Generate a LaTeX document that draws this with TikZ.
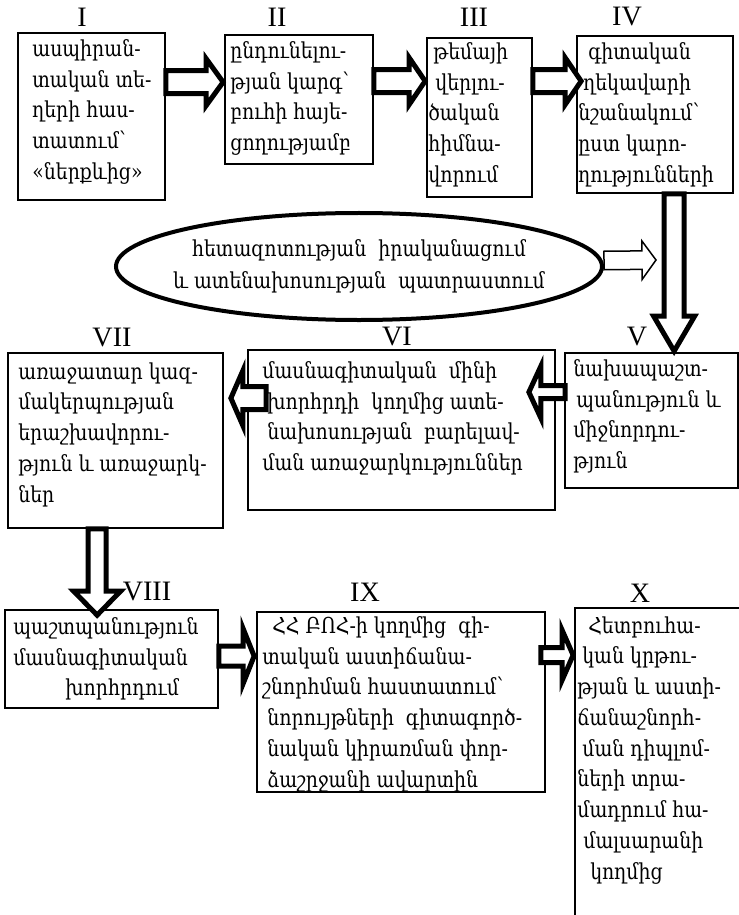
\documentclass[tikz,border=0pt]{standalone}
\usepackage{fontspec}
\setmainfont{Liberation Serif}
\newfontfamily\armfont[FakeStretch=0.86]{DejaVu Serif}
\usetikzlibrary{calc,fit,shapes.geometric}

% hollow block arrow: [style] tail, tip, shaft half width, head half width, head length
\newcommand{\blockarrow}[6][]{%
  \coordinate (ba-t) at (#2);
  \coordinate (ba-p) at (#3);
  \coordinate (ba-h) at ($(ba-p)!#6!(ba-t)$);
  \draw[blockarr,#1] ($(ba-t)!#4!90:(ba-p)$) -- ($(ba-h)!#4!-90:(ba-t)$)
    -- ($(ba-h)!#5!-90:(ba-t)$) -- (ba-p) -- ($(ba-h)!#5!90:(ba-t)$)
    -- ($(ba-h)!#4!90:(ba-t)$) -- ($(ba-t)!#4!-90:(ba-p)$) -- cycle;
}

\begin{document}
\begin{tikzpicture}[x=0.2mm, y=-0.2mm,
  stage/.style={draw, line width=0.35mm, inner sep=0pt},
  txt/.style={font=\armfont\fontsize{12.5}{17.5}\selectfont, align=left,
    anchor=north west, inner sep=0pt},
  num/.style={font=\fontsize{16}{18}\selectfont, inner sep=0pt},
  blockarr/.style={draw, line width=1mm, fill=white, line join=miter}
]
  \useasboundingbox (0,0) rectangle (739,915);

  % stages
  \node[stage, fit={(18,33) (165,200)}] (b1) {};
  \node[stage, fit={(225,35) (373,164)}] (b2) {};
  \node[stage, fit={(427,38) (532,197)}] (b3) {};
  \node[stage, fit={(577,36) (733,193)}] (b4) {};
  \node[stage, fit={(565,353) (738,488)}] (b5) {};
  \node[stage, fit={(248,350) (555,510)}] (b6) {};
  \node[stage, fit={(8,353) (223,528)}] (b7) {};
  \node[stage, fit={(5,610) (218,708)}] (b8) {};
  \node[stage, fit={(257,612) (545,792)}] (b9) {};
  \node[stage, fit={(575,608) (745,930)}] (b10) {};

  \node[draw, ellipse, line width=0.8mm, minimum width=97.2mm, minimum height=21.4mm,
    inner sep=0pt] (el) at (359,266.5) {};
  \node[align=center, inner sep=0pt, font=\armfont\fontsize{12.5}{18}\selectfont]
    (elt) at (el.center) {հետազոտության\ \ իրականացում\\և ատենախոսության\ \ պատրաստում};
  \coordinate (elarr) at (656,260);

  % numbers
  \node[num] (n1) at (82,17) {I};
  \node[num] (n2) at (277,17) {II};
  \node[num] (n3) at (474,17) {III};
  \node[num] (n4) at (627,17) {IV};
  \node[num] (n5) at (637,337) {V};
  \node[num] (n6) at (397,337) {VI};
  \node[num] (n7) at (112,338) {VII};
  \node[num] (n8) at (147,592) {VIII};
  \node[num] (n9) at (365,592) {IX};
  \node[num] (n10) at (640,593) {X};

  % texts
  \node[txt] (t1) at (32,39) {ասպիրան-\\տական տե-\\ղերի հաս-\\տատում՝\\«ներքևից»};
  \node[txt] (t2) at (230,41) {ընդունելու-\\թյան կարգ՝\\բուհի հայե-\\ցողությամբ};
  \node[txt] (t3) at (428,42) {\hspace*{1mm}թեմայի\\\hspace*{1.4mm}վերլու-\\ծական\\հիմնա-\\վորում};
  \node[txt] (t4) at (578,42) {\hspace*{2mm}գիտական\\\hspace*{1mm}ղեկավարի\\նշանակում՝\\ըստ կարո-\\ղությունների};
  \node[txt] (t5) at (573,359) {նախապաշտ-\\\hspace*{0.6mm}պանություն և\\միջնորդու-\\թյուն};
  \node[txt] (t6) at (262,361) {մասնագիտական\ \ մինի\\\hspace*{1mm}խորհրդի\ \ կողմից ատե-\\\hspace*{1mm}նախոսության\ \ բարելավ-\\ման առաջարկություններ};
  \node[txt] (t7) at (18,362) {առաջատար կազ-\\մակերպության\\երաշխավորու-\\թյուն և առաջարկ-\\ներ};
  \node[txt] (t8) at (13,617) {պաշտպանություն\\մասնագիտական\\\hspace*{10.4mm}խորհրդում};
  \node[txt] (t9) at (262,616) {\hspace*{2mm}ՀՀ ԲՈՀ-ի կողմից\ \ գի-\\տական աստիճանա-\\շնորհման հաստատում՝\\\hspace*{1mm}նորույթների\ \ գիտագործ-\\\hspace*{1mm}նական կիրառման փոր-\\\hspace*{1mm}ձաշրջանի ավարտին};
  \node[txt] (t10) at (577,616) {\hspace*{2.2mm}Հետբուհա-\\\hspace*{1mm}կան կրթու-\\թյան և աստի-\\ճանաշնորհ-\\\hspace*{1mm}ման դիպլոմ-\\ների տրա-\\մադրում հա-\\\hspace*{1.2mm}մալսարանի\\\hspace*{2.6mm}կողմից};

  % arrows
  \blockarrow{$(b1.north east)+(0,50)$}{$(b2.north west)+(-1,48)$}{2.3mm}{4.7mm}{3.4mm}
  \blockarrow{$(b2.north east)+(0,47)$}{$(b3.north west)+(-1,44)$}{2.3mm}{4.7mm}{3.2mm}
  \blockarrow{$(b3.north east)+(0,44)$}{$(b4.north west)+(5,46)$}{2.3mm}{4.7mm}{3.2mm}
  \blockarrow{$(b4.south west)+(98,0)$}{$(b5.north west)+(110,-1)$}{2mm}{4.1mm}{7mm}
  \blockarrow{$(b5.north west)+(1,40)$}{$(b6.north east)+(-27,43)$}{1.3mm}{5.2mm}{2.4mm}
  \blockarrow{$(b6.north west)+(19,49)$}{$(b7.north east)+(7,46)$}{2.3mm}{5.5mm}{2.4mm}
  \blockarrow{$(b7.south west)+(90,0)$}{$(b8.north west)+(93,6)$}{1.8mm}{4.7mm}{4.8mm}
  \blockarrow{$(b8.north east)+(0,47)$}{$(b9.north west)+(-2,45)$}{2mm}{5.5mm}{2.2mm}
  \blockarrow{$(b9.north east)+(-5,44)$}{$(b10.north west)+(-1,48)$}{1.5mm}{5mm}{2.2mm}
  \blockarrow[line width=0.3mm]{$(el.east)+(0,-6)$}{elarr}{1.85mm}{3.85mm}{2.8mm}
\end{tikzpicture}
\end{document}
